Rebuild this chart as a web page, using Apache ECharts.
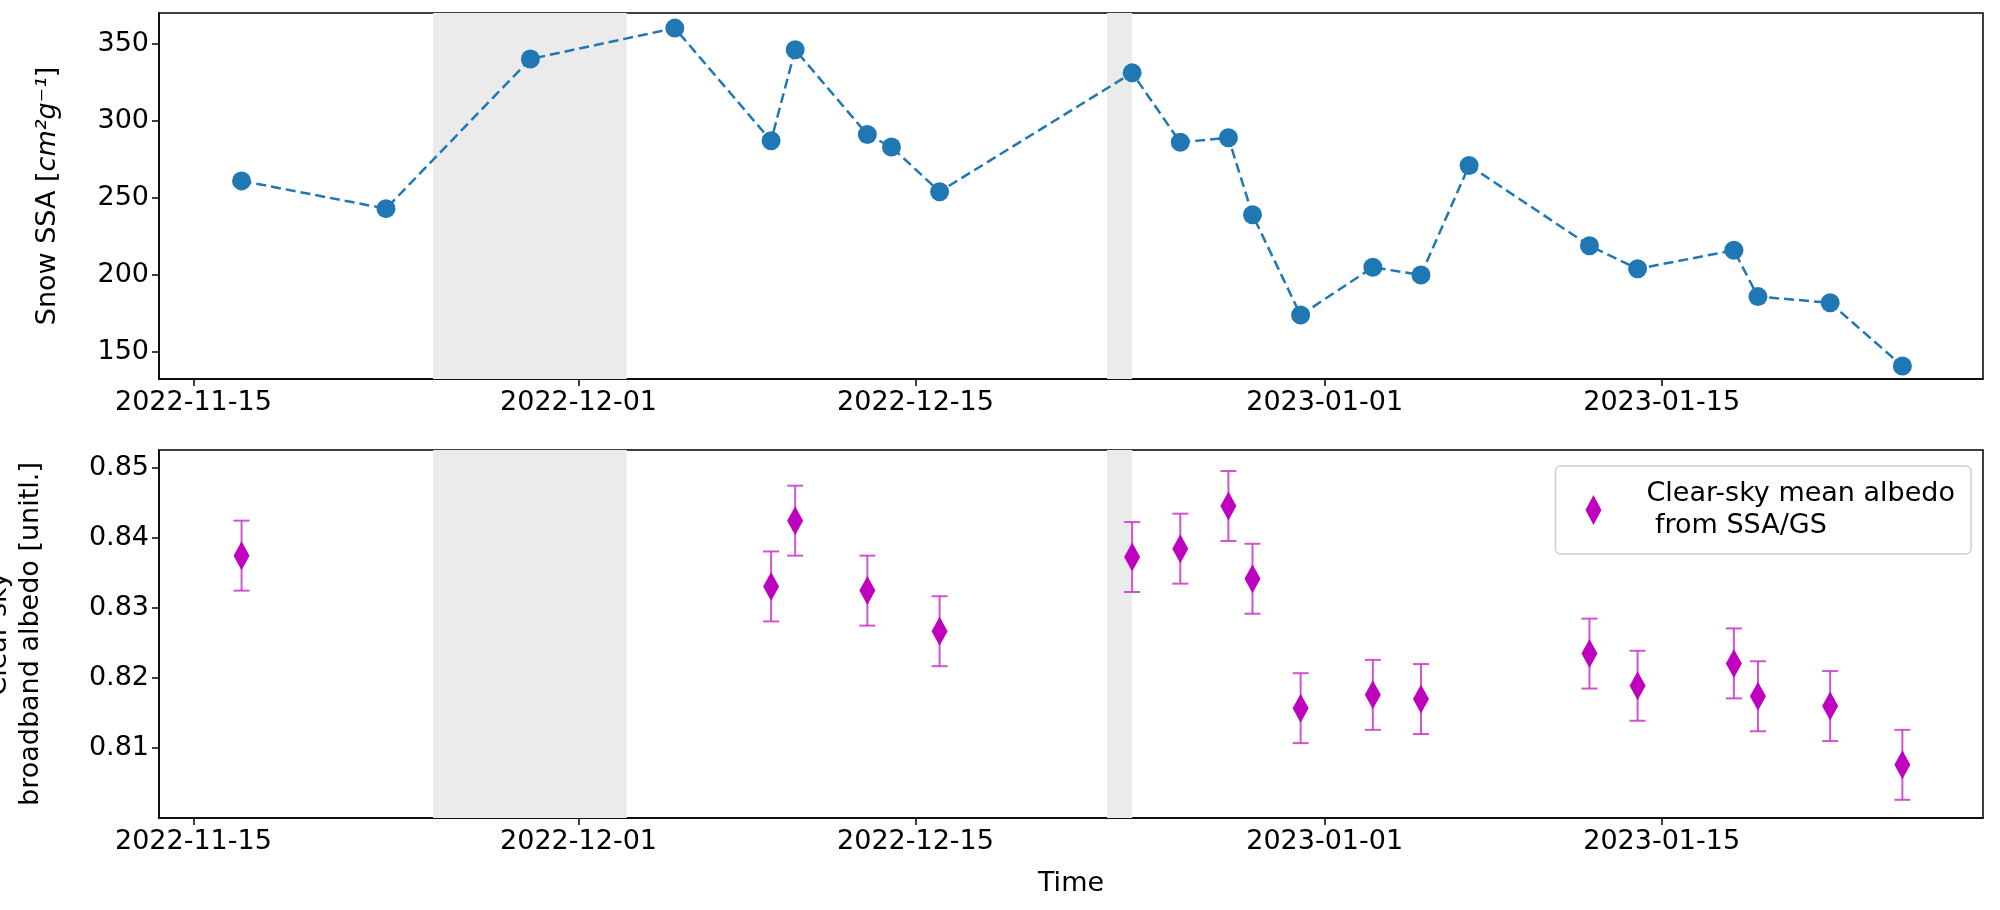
<!DOCTYPE html>
<html><head><meta charset="utf-8">
<script src="https://cdn.jsdelivr.net/npm/echarts@6/dist/echarts.min.js"></script>
<style>html,body{margin:0;padding:0;background:#fff}#c{width:2000px;height:910px}</style>
</head><body><div id="c"></div>
<script>
const ssaDates = ['2022-11-17','2022-11-23','2022-11-29','2022-12-05','2022-12-09','2022-12-10','2022-12-13','2022-12-14','2022-12-16','2022-12-24','2022-12-26','2022-12-28','2022-12-29','2022-12-31','2023-01-03','2023-01-05','2023-01-07','2023-01-12','2023-01-14','2023-01-18','2023-01-19','2023-01-22','2023-01-25'];
const ssaValues = [261,243,340,360,287,346,291,283,254,331,286,289,239,174,205,200,271,219,204,216,186,182,141];
const albDates = ['2022-11-17','2022-12-09','2022-12-10','2022-12-13','2022-12-16','2022-12-24','2022-12-26','2022-12-28','2022-12-29','2022-12-31','2023-01-03','2023-01-05','2023-01-12','2023-01-14','2023-01-18','2023-01-19','2023-01-22','2023-01-25'];
const albValues = [0.8375,0.8331,0.8425,0.8325,0.8267,0.8373,0.8385,0.8446,0.8342,0.8157,0.8176,0.8170,0.8235,0.8189,0.8221,0.8174,0.8160,0.8076];
const albErr = [0.005,0.005,0.005,0.005,0.005,0.005,0.005,0.005,0.005,0.005,0.005,0.005,0.005,0.005,0.005,0.005,0.005,0.005];
const shadeRanges = [['2022-11-24T23:00','2022-12-03T00:00'],['2022-12-22T23:00','2022-12-24T00:00']];
const xTickLabels = ['2022-11-15','2022-12-01','2022-12-15','2023-01-01','2023-01-15'];
const ssaTicks = [150,200,250,300,350];
const albTicks = [0.81,0.82,0.83,0.84,0.85];

const T = s => Date.parse(s + (s.length===10?'T00:00:00Z':':00Z'));
const DAY = 86400000;
const xMin = T('2022-11-15') - 1.43*DAY, xMax = T('2022-11-15') + 74.35*DAY;
const xTicks = xTickLabels.map(T);
const fmt = v => new Date(v).toISOString().slice(0,10);
const FS = 27, FONT = 'DejaVu Sans';

function xAxis(gi, name){
  return {type:'value', gridIndex:gi, min:xMin, max:xMax, name:name||'', nameLocation:'middle', nameGap:52,
    nameTextStyle:{fontSize:FS,fontFamily:FONT,color:'#000'},
    axisLine:{lineStyle:{color:'#000',width:1.5}}, splitLine:{show:false},
    axisTick:{customValues:xTicks,length:7,lineStyle:{color:'#000',width:1.5}},
    axisLabel:{customValues:xTicks,formatter:fmt,fontSize:FS,fontFamily:FONT,color:'#000',margin:10}};
}
function yAxis(gi,min,max,ticks,name,gap,dec){
  return {type:'value', gridIndex:gi, min:min, max:max, name:name, nameLocation:'middle', nameGap:gap,
    nameTextStyle:{fontSize:FS,fontFamily:FONT,color:'#000',lineHeight:32,
      rich:{n:{fontSize:FS,fontFamily:FONT,color:'#000'},i:{fontSize:FS,fontFamily:FONT,fontStyle:'italic',color:'#000'}}},
    axisLine:{show:true,lineStyle:{color:'#000',width:1.5}}, splitLine:{show:false},
    axisTick:{show:true,customValues:ticks,length:7,lineStyle:{color:'#000',width:1.5}},
    axisLabel:{customValues:ticks,formatter:v=>dec?v.toFixed(dec):String(v),fontSize:FS,fontFamily:FONT,color:'#000',margin:10}};
}
const shade = shadeRanges.map(r=>[{xAxis:T(r[0])},{xAxis:T(r[1])}]);

const option = {
  animation:false,
  grid:[{left:159,right:17,top:13,height:366,show:true,borderColor:'#000',borderWidth:1.5,outerBoundsMode:'none',containLabel:false},
        {left:159,right:17,top:450,height:368,show:true,borderColor:'#000',borderWidth:1.5,outerBoundsMode:'none',containLabel:false}],
  xAxis:[xAxis(0), xAxis(1,'Time')],
  yAxis:[yAxis(0,132.6,369.8,ssaTicks,'{n|Snow SSA [}{i|cm²g⁻¹}{n|]}',95,0),
         yAxis(1,0.8,0.8526,albTicks,'Clear-sky\nbroadband albedo [unitl.]',112,2)],
  legend:{data:['Clear-sky mean albedo\n from SSA/GS'], right:29, top:466, orient:'vertical',
    backgroundColor:'#fff', borderColor:'#d0d0d0', borderWidth:1.5, borderRadius:5,
    padding:[12,16,12,30], itemWidth:16, itemHeight:30, itemGap:10,
    textStyle:{fontSize:FS,fontFamily:FONT,color:'#000',lineHeight:32,padding:[0,0,0,40]}},
  series:[
    {type:'line', xAxisIndex:0,yAxisIndex:0, data:ssaDates.map((d,i)=>[T(d),ssaValues[i]]),
     symbol:'circle', symbolSize:19, itemStyle:{color:'#1f77b4'},
     lineStyle:{color:'#1f77b4',width:2.5,type:[10,5]},
     markArea:{silent:true,itemStyle:{color:'#ebebeb'},data:shade}},
    {type:'line', xAxisIndex:1,yAxisIndex:1, data:[], markArea:{silent:true,itemStyle:{color:'#ebebeb'},data:shade}},
    {type:'custom', xAxisIndex:1,yAxisIndex:1, z:3,
     data:albDates.map((d,i)=>[T(d),albValues[i]-albErr[i],albValues[i]+albErr[i]]),
     renderItem:(p,api)=>{
       const lo=api.coord([api.value(0),api.value(1)]), hi=api.coord([api.value(0),api.value(2)]);
       const x=lo[0], w=8, st={stroke:'#c936c9',lineWidth:2,opacity:0.85};
       return {type:'group',children:[
         {type:'line',shape:{x1:x,y1:lo[1],x2:x,y2:hi[1]},style:st},
         {type:'line',shape:{x1:x-w,y1:lo[1],x2:x+w,y2:lo[1]},style:st},
         {type:'line',shape:{x1:x-w,y1:hi[1],x2:x+w,y2:hi[1]},style:st}]};
     }},
    {type:'scatter', name:'Clear-sky mean albedo\n from SSA/GS', xAxisIndex:1,yAxisIndex:1, z:4,
     data:albDates.map((d,i)=>[T(d),albValues[i]]), symbol:'diamond', symbolSize:[16,29],
     itemStyle:{color:'#bf00bf',opacity:1}}
  ]
};
echarts.init(document.getElementById('c')).setOption(option);
</script></body></html>
